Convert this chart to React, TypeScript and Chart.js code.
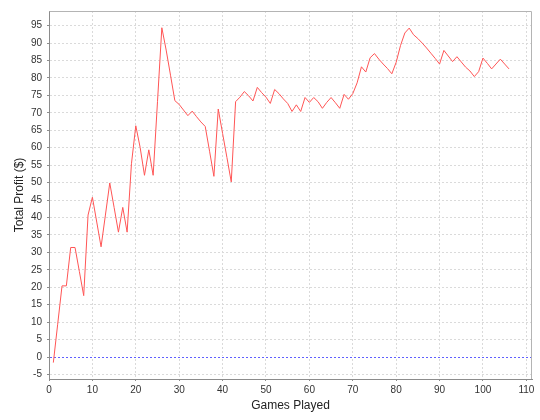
import React, { useEffect, useRef } from "react";
import { Chart, registerables } from "chart.js";

Chart.register(...registerables);

const games = [
  1, 2, 3, 4, 5, 6, 7, 8, 9, 10, 11, 12, 13, 14, 15, 16, 17, 18, 19, 20,
  21, 22, 23, 24, 25, 26, 27, 28, 29, 30, 31, 32, 33, 34, 35, 36, 37, 38, 39, 40,
  41, 42, 43, 44, 45, 46, 47, 48, 49, 50, 51, 52, 53, 54, 55, 56, 57, 58, 59, 60,
  61, 62, 63, 64, 65, 66, 67, 68, 69, 70, 71, 72, 73, 74, 75, 76, 77, 78, 79, 80,
  81, 82, 83, 84, 85, 86, 87, 88, 89, 90, 91, 92, 93, 94, 95, 96, 97, 98, 99, 100,
  101, 102, 103, 104, 105, 106,
];

const profit = [
  -1.6, 9.4, 20.4, 20.4, 31.4, 31.4, 24.5, 17.6, 40.7, 45.8,
  38.7, 31.6, 40.7, 49.9, 42.9, 35.8, 42.9, 35.8, 55.4, 66.3,
  60.1, 52.1, 59.4, 52.1, 73.2, 94.4, 88.0, 80.8, 73.5, 72.4,
  70.8, 69.2, 70.5, 68.9, 67.4, 66.1, 59.0, 51.8, 71.1, 64.1,
  57.2, 50.2, 73.2, 74.5, 76.1, 74.9, 73.4, 77.3, 75.8, 74.5,
  72.7, 76.7, 75.5, 74.0, 72.7, 70.4, 72.3, 70.4, 74.4, 73.0,
  74.4, 73.2, 71.3, 73.0, 74.4, 72.9, 71.3, 75.3, 73.9, 75.5,
  78.6, 83.2, 81.7, 85.8, 87.0, 85.4, 84.0, 82.7, 81.2, 84.5,
  89.3, 92.9, 94.3, 92.4, 91.3, 90.0, 88.6, 87.1, 85.6, 84.0,
  87.9, 86.3, 84.7, 86.1, 84.6, 83.1, 82.0, 80.4, 81.8, 85.7,
  84.2, 82.6, 84.0, 85.4, 84.0, 82.6,
];

const xRange = [0, 111.3];
const yRange = [-6.3, 99.2];
const xStep = 10;
const yStep = 5;
const zeroMarker = 0;

const FONT = '"Liberation Sans", Arial, sans-serif';
const GRID = "#dadada";

const zeroLinePlugin = {
  id: "zeroLine",
  beforeDatasetsDraw(chart: any) {
    const { ctx, chartArea, scales } = chart;
    const y = Math.round(scales.y.getPixelForValue(zeroMarker) - 0.5);
    ctx.save();
    ctx.fillStyle = "#ffffff";
    ctx.fillRect(chartArea.left + 1, y - 1, chartArea.right - chartArea.left - 2, 3);
    ctx.fillStyle = "#6060ff";
    for (let x = Math.ceil(chartArea.left) + 1; x < chartArea.right - 1; x += 4) {
      ctx.fillRect(x, y, 2, 1);
    }
    ctx.restore();
  },
};

const framePlugin = {
  id: "frame",
  afterDraw(chart: any) {
    const { ctx, chartArea } = chart;
    ctx.save();
    ctx.setLineDash([]);
    ctx.strokeStyle = "#b4b4b4";
    ctx.lineWidth = 1;
    ctx.beginPath();
    ctx.moveTo(Math.round(chartArea.left) + 0.5, Math.round(chartArea.top) + 0.5);
    ctx.lineTo(Math.round(chartArea.right) - 0.5, Math.round(chartArea.top) + 0.5);
    ctx.lineTo(Math.round(chartArea.right) - 0.5, Math.round(chartArea.bottom));
    ctx.stroke();
    ctx.restore();
  },
};

export default function App() {
  const ref = useRef<HTMLCanvasElement>(null);

  useEffect(() => {
    if (!ref.current) return;
    const tickFont = { family: FONT, size: 10 };
    const titleFont = { family: FONT, size: 12 };
    const chart = new Chart(ref.current, {
      type: "line",
      data: {
        datasets: [
          {
            data: games.map((g, i) => ({ x: g, y: profit[i] })),
            borderColor: "#ff5555",
            borderWidth: 1,
            pointRadius: 0,
            tension: 0,
            fill: false,
          },
        ],
      },
      options: {
        animation: false,
        responsive: true,
        maintainAspectRatio: false,
        layout: { padding: { left: 0, top: 4, right: 8, bottom: 0 } },
        plugins: {
          legend: { display: false },
          tooltip: { enabled: false },
        },
        scales: {
          x: {
            type: "linear",
            min: xRange[0],
            max: xRange[1],
            afterFit: (s: any) => {
              s.height = 41;
            },
            ticks: {
              stepSize: xStep,
              includeBounds: false,
              autoSkip: false,
              maxRotation: 0,
              padding: 3,
              color: "#333",
              font: tickFont,
            },
            grid: {
              color: GRID,
              lineWidth: 1,
              tickLength: 2,
              tickColor: "#8c8c8c",
              tickBorderDash: [],
            },
            border: { display: true, color: "#8c8c8c", width: 1, dash: [2, 2] },
            title: {
              display: true,
              text: "Games Played",
              color: "#222",
              font: titleFont,
              padding: { top: 0, bottom: 7 },
            },
          },
          y: {
            type: "linear",
            min: yRange[0],
            max: yRange[1],
            afterFit: (s: any) => {
              s.width = 49;
            },
            ticks: {
              stepSize: yStep,
              includeBounds: false,
              autoSkip: false,
              padding: 5,
              color: "#333",
              font: tickFont,
            },
            grid: {
              color: (ctx: any) => (ctx.tick && ctx.tick.value === zeroMarker ? "rgba(0,0,0,0)" : GRID),
              lineWidth: 1,
              tickLength: 2,
              tickColor: "#8c8c8c",
              tickBorderDash: [],
            },
            border: { display: true, color: "#8c8c8c", width: 1, dash: [2, 2] },
            title: {
              display: true,
              text: "Total Profit ($)",
              color: "#222",
              font: titleFont,
              padding: { top: 12, bottom: 0 },
            },
          },
        },
      } as any,
      plugins: [zeroLinePlugin, framePlugin],
    });
    return () => chart.destroy();
  }, []);

  return (
    <div
      style={{
        position: "fixed",
        left: 0,
        top: 0,
        width: 540,
        height: 420,
        background: "#ffffff",
      }}
    >
      <canvas ref={ref} />
    </div>
  );
}
